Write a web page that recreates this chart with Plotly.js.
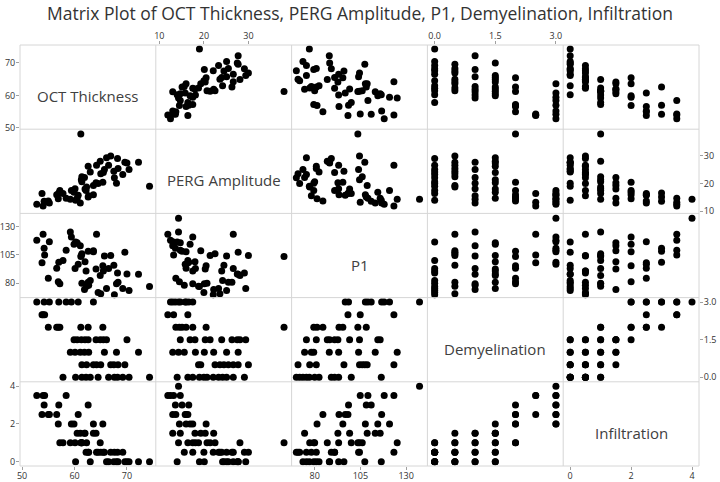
<!DOCTYPE html>
<html>
<head>
<meta charset="utf-8">
<script src="https://cdn.plot.ly/plotly-3.0.1.min.js"></script>
<style>html,body{margin:0;padding:0;background:#fff}#chart{width:720px;height:482px}</style>
</head>
<body>
<div id="chart"></div>
<script>
// Variable names
const varNames = ["OCT Thickness", "PERG Amplitude", "P1", "Demyelination", "Infiltration"];

// Subject values (null = missing)
const oct  = [null,52.8,58.4,54.2,57.0,55.2,60.7,59.4,63.6, 54.0,54.3,53.8, 62.6,56.6,55.0,65.4,56.9,57.2,61.2,
              59.9,60.5,62.0,64.1,61.3,64.9,65.5,62.6,70.0,66.1, 59.2,61.1,65.7,60.1,68.0,62.7,61.9,72.2,
              64.2,69.6,61.4,63.6,66.9,68.3,62.3,65.0,67.5, 60.2,57.8,66.5,62.2,68.2,63.0,61.4,67.6,69.2,70.4,64.5,74.3];
const perg = [14.3,12.5,14.7,13.6,16.6,13.0,15.8,17.5,16.0, 11.9,13.2,16.4, 15.1,16.0,13.7,20.5,14.5,17.5,38.0,
              16.9,14.7,18.0,20.3,21.4,28.1,24.0,26.3,27.5,29.4, 14.3,13.0,25.1,18.1,20.1,15.6,22.2,27.7,
              26.6,27.7,22.5,19.3,30.0,25.5,18.8,23.6,24.5, 14.0,16.4,26.6,17.5,29.1,24.2,20.7,22.1,23.3,25.1,20.0,19.0];
const p1   = [137.3,118,109.1,110.9,98.5,116.6,96.7,120.9,107.7, 123.3,104.9,98.2, 108.2,93.3,84.5,95.4,81.3,79.5,103.6,
              114.5,115.8,99.1,92.7,104.5,86.9,90.9,80.9,88.2,75.5, 125.1,113.1,104,93.1,79.5,78.2,74.5,88.0,
              123.3,107.4,106,108.7,104.5,80.9,77.3,70.9,96, 116.4,100,93.1,90.9,89.1,82.4,80,70,75.5,73.6,71.8,77.1];
const demy = [3,3,3,3,3,3,3,3,3, 2.5,2.5,2.5, 2,2,2,2,2,2,2,
              1.5,1.5,1.5,1.5,1.5,1.5,1.5,1.5,1.5,1.5, 1,1,1,1,1,1,1,1,
              0.5,0.5,0.5,0.5,0.5,0.5,0.5,0.5,0.5, 0,0,0,0,0,0,0,0,0,0,0,0];
const infl = [4,3.5,3.5,3,3,2.5,2.5,2,2, 3.5,3.5,2.5, 3,2.5,2.5,2,2,1,1,
              2,1.5,1.5,1.5,1,1,0.5,0.5,0,0, 1,1.5,0.5,1,0,0.5,1.5,0,
              0.5,0,1,1.5,0.5,0,1,0.5,0, 0,1,0,0.5,0.5,0,1,0.5,0.5,0,0.5,0];

// Axis tick values / labels per variable
const tickVals = [[50,60,70],[10,20,30],[80,105,130],[0,1.5,3],[0,2,4]];
const tickText = [["50","60","70"],["10","20","30"],["80","105","130"],["0.0","1.5","3.0"],["0","2","4"]];
const axisRanges = [[49.6,75.5],[9.2,39.7],[67.4,141.6],[-0.18,3.18],[-0.23,4.23]];

const vars = [oct, perg, p1, demy, infl];
const n = 5;
const tickFontFamily = 'Open Sans, sans-serif';
const traces = [];
const layout = {
  width: 720, height: 482,
  margin: {l: 20, r: 21, t: 45, b: 16},
  paper_bgcolor: '#ffffff', plot_bgcolor: 'rgba(0,0,0,0)',
  showlegend: false,
  font: {family: 'Open Sans, sans-serif', size: 10, color: '#333333'},
  title: {text: 'Matrix Plot of OCT Thickness, PERG Amplitude, P1, Demyelination, Infiltration',
          font: {family: 'Open Sans, sans-serif', size: 17.5, color: '#333333'},
          x: 0.5, xanchor: 'center', xref: 'container', y: 0.972, yref: 'container', yanchor: 'middle'},
  shapes: [], annotations: []
};

for (let r = 0; r < n; r++) {
  for (let c = 0; c < n; c++) {
    const k = r * n + c + 1;
    const xs = k === 1 ? 'x' : 'x' + k;
    const ys = k === 1 ? 'y' : 'y' + k;
    const xk = k === 1 ? 'xaxis' : 'xaxis' + k;
    const yk = k === 1 ? 'yaxis' : 'yaxis' + k;
    const showX = (c % 2 === 0 && r === n - 1) || (c % 2 === 1 && r === 0);
    const showY = (r % 2 === 0 && c === 0) || (r % 2 === 1 && c === n - 1);
    layout[xk] = {
      domain: [c / n, (c + 1) / n], range: axisRanges[c], anchor: ys,
      showgrid: false, zeroline: false, showline: false, fixedrange: true,
      tickmode: 'array', tickvals: tickVals[c], ticktext: tickText[c],
      showticklabels: showX, ticks: showX ? 'outside' : '', ticklen: 3, tickcolor: '#a0a0a0',
      ticklabelstandoff: -2,
      side: (c % 2 === 1) ? 'top' : 'bottom',
      tickfont: {family: tickFontFamily, size: 9, color: '#333333'}
    };
    layout[yk] = {
      domain: [1 - (r + 1) / n, 1 - r / n], range: axisRanges[r], anchor: xs,
      showgrid: false, zeroline: false, showline: false, fixedrange: true,
      tickmode: 'array', tickvals: tickVals[r], ticktext: tickText[r],
      showticklabels: showY, ticks: showY ? 'outside' : '', ticklen: 3, tickcolor: '#a0a0a0',
      ticklabelstandoff: -1,
      side: (r % 2 === 1) ? 'right' : 'left',
      tickfont: {family: tickFontFamily, size: 9, color: '#333333'}
    };
    if (r === c) {
      traces.push({type: 'scatter', mode: 'markers', x: [], y: [], xaxis: xs, yaxis: ys, hoverinfo: 'skip'});
      layout.annotations.push({
        text: varNames[r], xref: 'paper', yref: 'paper',
        x: (c + 0.5) / n, y: 1 - (r + 0.5) / n, xanchor: 'center', yanchor: 'middle', yshift: -9,
        showarrow: false, font: {family: 'Open Sans, sans-serif', size: 15, color: '#404040'}
      });
    } else {
      traces.push({
        type: 'scatter', mode: 'markers', x: vars[c], y: vars[r], xaxis: xs, yaxis: ys,
        marker: {color: '#000000', size: 7}, cliponaxis: false
      });
    }
  }
}

// Cell borders
for (let i = 0; i <= n; i++) {
  layout.shapes.push({type: 'line', xref: 'paper', yref: 'paper', x0: i / n, x1: i / n, y0: 0, y1: 1,
                      line: {color: '#d6d6d6', width: 1}});
  layout.shapes.push({type: 'line', xref: 'paper', yref: 'paper', x0: 0, x1: 1, y0: i / n, y1: i / n,
                      line: {color: '#d6d6d6', width: 1}});
}

Plotly.newPlot('chart', traces, layout, {displayModeBar: false, staticPlot: true});
</script>
</body>
</html>
